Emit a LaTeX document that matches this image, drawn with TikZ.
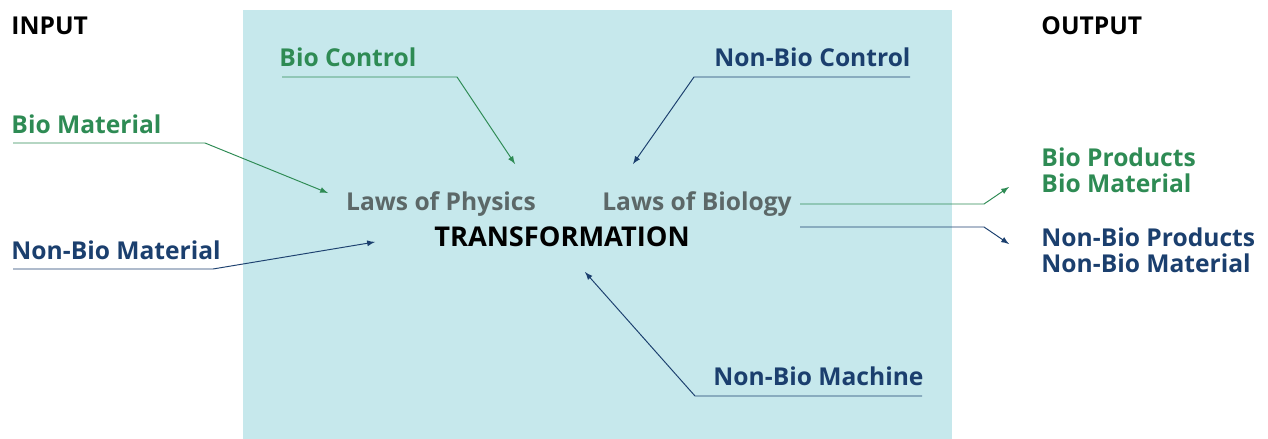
\documentclass[tikz,border=0pt]{standalone}
\usepackage{fontspec}
\setmainfont{Open Sans}
\usepackage{tikz}
\usetikzlibrary{arrows,positioning}
\definecolor{biogreen}{HTML}{2E8B54}
\definecolor{nonbioblue}{HTML}{1B3F6E}
\definecolor{lawgrey}{HTML}{5C6868}
\definecolor{boxcyan}{HTML}{C6E8EC}
\tikzstyle{label}=[inner sep=0pt,font=\fontsize{14}{17}\selectfont\bfseries]
\tikzstyle{bio}=[label,text=biogreen]
\tikzstyle{nonbio}=[label,text=nonbioblue]

\begin{document}
\begin{tikzpicture}[x=0.02cm,y=-0.02cm,line width=0.55pt,>=latex]
\tikzstyle{bioline}=[draw=biogreen,->]
\tikzstyle{nonbioline}=[draw=nonbioblue,->]
\useasboundingbox (0,0) rectangle (1268,439);
\fill[boxcyan] (243,10) rectangle (952,439);

\node [label,anchor=base west] (input) at (11,35) {INPUT};
\node [label,anchor=base west] (output) at (1041,35) {OUTPUT};

% inputs and controls
\node [bio,anchor=base west] (biomat) at (11,133) {Bio Material};
\node [nonbio,anchor=base west] (nonbiomat) at (11,259) {Non-Bio Material};
\node [bio,anchor=base west] (biocon) at (279,67) {Bio Control};
\node [nonbio,anchor=base east] (nonbiocon) at (911,67) {Non-Bio Control};
\node [nonbio,anchor=base east] (machine) at (924,385) {Non-Bio Machine};

% the transformation
\node [label,text=lawgrey,anchor=base] (physics) at (441,210) {Laws of Physics};
\node [label,text=lawgrey,anchor=base] (biology) at (697,210) {Laws of Biology};
\node [label,font=\fontsize{15.5}{18}\selectfont\bfseries,anchor=base] (trans) at (562,246) {TRANSFORMATION};

% outputs
\node [bio,anchor=base west] (bioprod) at (1041,167) {Bio Products};
\node [bio,anchor=base west] (biomatout) at (1041,193) {Bio Material};
\node [nonbio,anchor=base west] (nonbioprod) at (1041,246) {Non-Bio Products};
\node [nonbio,anchor=base west] (nonbiomatout) at (1041,272) {Non-Bio Material};

\coordinate (A) at (13,143);
\coordinate (A1) at (205,143);
\coordinate (A2) at (328,193);
\coordinate (B) at (13,269);
\coordinate (B1) at (213,269);
\coordinate (B2) at (375,242);
\coordinate (C) at (282,77);
\coordinate (C1) at (457,77);
\coordinate (C2) at (515,164);
\coordinate (D) at (910,77);
\coordinate (D1) at (694,77);
\coordinate (D2) at (633,164);
\coordinate (E) at (922,396);
\coordinate (E1) at (695,396);
\coordinate (E2) at (585,272);
\coordinate (F) at (800,204);
\coordinate (F1) at (984,204);
\coordinate (F2) at (1009,187);
\coordinate (G) at (800,227);
\coordinate (G1) at (984,227);
\coordinate (G2) at (1009,244);

\draw[bioline] (A) -- (A1) -- (A2);
\draw[nonbioline] (B) -- (B1) -- (B2);
\draw[bioline] (C) -- (C1) -- (C2);
\draw[nonbioline] (D) -- (D1) -- (D2);
\draw[nonbioline] (E) -- (E1) -- (E2);
\draw[bioline] (F) -- (F1) -- (F2);
\draw[nonbioline] (G) -- (G1) -- (G2);
\end{tikzpicture}
\end{document}
